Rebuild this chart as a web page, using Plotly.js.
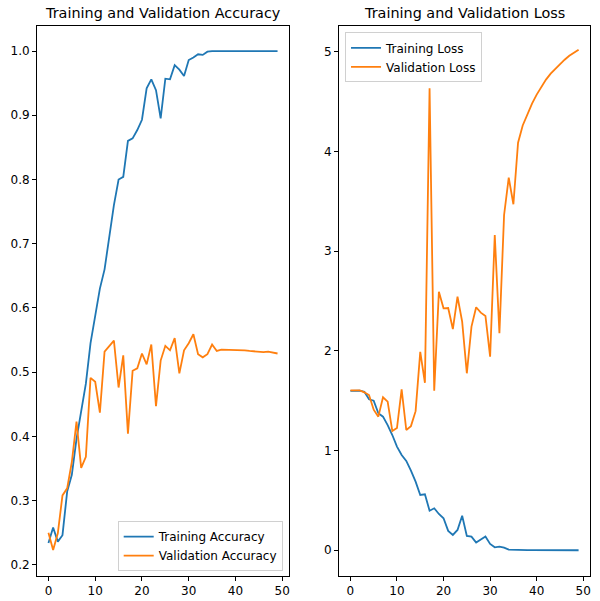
<!DOCTYPE html>
<html>
<head>
<meta charset="utf-8">
<script src="https://cdn.plot.ly/plotly-3.0.1.min.js"></script>
<style>
html, body { margin: 0; padding: 0; background: #fff; }
#chart { width: 600px; height: 601px; }
</style>
</head>
<body>
<div id="chart"></div>
<script>
// ---- data ----
const epochs = Array.from({length: 50}, (_, i) => i);

const trainAcc = [0.234, 0.258, 0.236, 0.246, 0.314, 0.340, 0.396, 0.436, 0.482, 0.545,
  0.589, 0.630, 0.660, 0.713, 0.760, 0.800, 0.804, 0.860, 0.864, 0.877,
  0.893, 0.942, 0.956, 0.939, 0.895, 0.957, 0.956, 0.978, 0.971, 0.961,
  0.986, 0.990, 0.995, 0.994, 0.999, 1.000, 1.000, 1.000, 1.000, 1.000,
  1.000, 1.000, 1.000, 1.000, 1.000, 1.000, 1.000, 1.000, 1.000, 1.000];

const valAcc = [0.250, 0.223, 0.249, 0.308, 0.319, 0.360, 0.423, 0.351, 0.368, 0.491,
  0.485, 0.437, 0.532, 0.540, 0.549, 0.476, 0.526, 0.404, 0.502, 0.506,
  0.529, 0.512, 0.543, 0.447, 0.518, 0.541, 0.534, 0.553, 0.498, 0.534,
  0.545, 0.559, 0.528, 0.523, 0.528, 0.543, 0.533, 0.535, 0.535, 0.535,
  0.535, 0.534, 0.534, 0.533, 0.532, 0.532, 0.531, 0.532, 0.530, 0.529];

const trainLoss = [1.598, 1.596, 1.600, 1.590, 1.514, 1.500, 1.374, 1.340, 1.256, 1.156,
  1.040, 0.956, 0.896, 0.799, 0.688, 0.555, 0.561, 0.397, 0.421, 0.364,
  0.321, 0.194, 0.154, 0.204, 0.347, 0.144, 0.137, 0.077, 0.110, 0.137,
  0.064, 0.030, 0.037, 0.027, 0.006, 0.003, 0.002, 0.001, 0.001, 0.001,
  0.001, 0.001, 0.001, 0.001, 0.001, 0.000, 0.000, 0.000, 0.000, 0.000];

const valLoss = [1.604, 1.602, 1.604, 1.584, 1.557, 1.410, 1.340, 1.534, 1.490, 1.196,
  1.226, 1.614, 1.206, 1.245, 1.395, 1.990, 1.680, 4.633, 1.600, 2.593,
  2.427, 2.430, 2.219, 2.543, 2.293, 1.775, 2.243, 2.437, 2.383, 2.350,
  1.942, 3.162, 2.176, 3.363, 3.737, 3.470, 4.088, 4.260, 4.380, 4.480,
  4.570, 4.650, 4.720, 4.780, 4.830, 4.880, 4.920, 4.960, 4.990, 5.020];

const xTicks = [0, 10, 20, 30, 40, 50];
const accTicks = [0.2, 0.3, 0.4, 0.5, 0.6, 0.7, 0.8, 0.9, 1.0];
const lossTicks = [0, 1, 2, 3, 4, 5];

const titles = ['Training and Validation Accuracy', 'Training and Validation Loss'];
const names = ['Training Accuracy', 'Validation Accuracy', 'Training Loss', 'Validation Loss'];

// ---- styling ----
const BLUE = '#1f77b4', ORANGE = '#ff7f0e';
const FONT = 'DejaVu Sans, Liberation Sans, sans-serif';

const traces = [
  {x: epochs, y: trainAcc, name: names[0], type: 'scatter', mode: 'lines',
   line: {color: BLUE, width: 1.8}, xaxis: 'x', yaxis: 'y', legend: 'legend'},
  {x: epochs, y: valAcc, name: names[1], type: 'scatter', mode: 'lines',
   line: {color: ORANGE, width: 1.8}, xaxis: 'x', yaxis: 'y', legend: 'legend'},
  {x: epochs, y: trainLoss, name: names[2], type: 'scatter', mode: 'lines',
   line: {color: BLUE, width: 1.8}, xaxis: 'x2', yaxis: 'y2', legend: 'legend2'},
  {x: epochs, y: valLoss, name: names[3], type: 'scatter', mode: 'lines',
   line: {color: ORANGE, width: 1.8}, xaxis: 'x2', yaxis: 'y2', legend: 'legend2'}
];

function axisBase() {
  return {
    showgrid: false, zeroline: false, showline: true, mirror: true,
    linecolor: '#000', linewidth: 1,
    ticks: 'outside', ticklen: 4, tickwidth: 1, tickcolor: '#000',
    tickfont: {family: FONT, size: 12, color: '#000'},
    fixedrange: true
  };
}

const legendStyle = {
  font: {family: FONT, size: 12, color: '#000'},
  bgcolor: 'rgba(255,255,255,0.8)', bordercolor: '#d0d0d0', borderwidth: 1,
  tracegroupgap: 0
};

const layout = {
  width: 600, height: 601,
  margin: {l: 37, r: 10, t: 26, b: 25, pad: 0},
  paper_bgcolor: '#fff', plot_bgcolor: '#fff',
  showlegend: true,
  xaxis: Object.assign(axisBase(), {domain: [0, 0.4557], range: [-2.45, 51.45],
    tickvals: xTicks, anchor: 'y'}),
  yaxis: Object.assign(axisBase(), {range: [0.1825, 1.039], tickvals: accTicks,
    tickformat: '.1f', anchor: 'x'}),
  xaxis2: Object.assign(axisBase(), {domain: [0.5461, 1], range: [-2.45, 51.45],
    tickvals: xTicks, anchor: 'y2'}),
  yaxis2: Object.assign(axisBase(), {range: [-0.258, 5.258], tickvals: lossTicks,
    anchor: 'x2'}),
  legend: Object.assign({}, legendStyle, {x: 0.4443, y: 0.009, xanchor: 'right', yanchor: 'bottom'}),
  legend2: Object.assign({}, legendStyle, {x: 0.557, y: 0.9885, xanchor: 'left', yanchor: 'top'}),
  annotations: [
    {text: titles[0], xref: 'paper', yref: 'paper', x: 0.4557 / 2, y: 1,
     xanchor: 'center', yanchor: 'bottom', yshift: 3, showarrow: false,
     font: {family: FONT, size: 14.4, color: '#000'}},
    {text: titles[1], xref: 'paper', yref: 'paper', x: (0.5461 + 1) / 2, y: 1,
     xanchor: 'center', yanchor: 'bottom', yshift: 3, showarrow: false,
     font: {family: FONT, size: 14.4, color: '#000'}}
  ]
};

Plotly.newPlot('chart', traces, layout, {displayModeBar: false, staticPlot: true});
</script>
</body>
</html>
